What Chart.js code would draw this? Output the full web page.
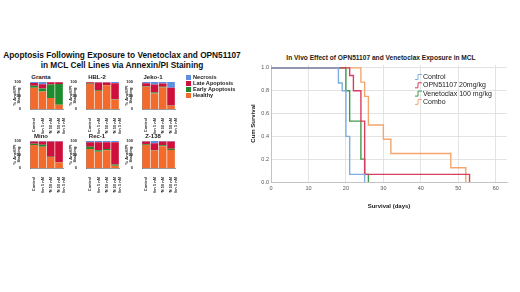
<!DOCTYPE html>
<html>
<head>
<meta charset="utf-8">
<script src="https://cdn.jsdelivr.net/npm/chart.js@4.4.1/dist/chart.umd.min.js"></script>
<style>
  body { margin: 0; background: #fff; width: 520px; height: 292px; position: relative; overflow: hidden;
         font-family: "Liberation Sans", Arial, sans-serif; }
  .abs { position: absolute; }
  #leftTitle { left: 0; top: 50px; width: 244px; text-align: center; font-weight: bold; font-size: 8.3px; line-height: 10px;
               color: #111; white-space: nowrap; }
  .cellTitle { width: 58px; text-align: center; font-size: 6px; font-weight: bold; color: #222; }
  .legItem { font-size: 5.6px; font-weight: bold; color: #222; line-height: 6px; white-space: nowrap; }
  .legItem span { display: inline-block; width: 5px; height: 5px; margin-right: 2px; vertical-align: -1px; }
  #kmTitle { left: 250px; top: 54px; width: 262px; text-align: center; font-weight: bold; font-size: 6.6px; color: #222; white-space: nowrap; }
</style>
</head>
<body>
<div id="leftTitle" class="abs">Apoptosis Following Exposure to Venetoclax and OPN51107<br>in MCL Cell Lines via Annexin/PI Staining</div>
<div id="kmTitle" class="abs">In Vivo Effect of OPN51107 and Venetoclax Exposure in MCL</div>
<canvas id="km" class="abs" width="268" height="160" style="left:250px;top:50px"></canvas>

<script>
// panel A: % of cells per state, one row per cell line, one value per treatment
const cellLines = ['Granta', 'HBL-2', 'Jeko-1', 'Mino', 'Rec-1', 'Z-138'];
const treatments = ['Control', 'Ven 5 nM', 'OPN 50 nM', ['OPN 50 nM', '+ Ven 5 nM']];
const healthy   = [[79, 65, 41, 16], [93, 67, 88, 35], [82, 57, 80, 12], [85, 79, 41, 20], [70, 60, 66, 8],  [85, 65, 81, 67]];
const earlyApop = [[7, 11, 50, 77],  [1, 2, 1, 2],     [2, 4, 2, 1],     [5, 7, 1, 1],     [9, 6, 4, 5],     [3, 2, 3, 4]];
const lateApop  = [[10, 16, 8, 6],   [5, 29, 9, 58],   [11, 30, 12, 66], [8, 12, 56, 77],  [16, 29, 25, 82], [10, 25, 14, 27]];
const necrosis  = [[4, 8, 1, 1],     [1, 2, 2, 5],     [5, 9, 6, 21],    [2, 2, 2, 2],     [5, 5, 5, 5],     [2, 8, 2, 2]];
const stateNames = ['Necrosis', 'Late Apoptosis', 'Early Apoptosis', 'Healthy'];

// panel B: Kaplan-Meier steps (day, cumulative survival)
const groups = ['Control', 'OPN51107 20mg/kg', 'Venetoclax 100 mg/kg', 'Combo'];
const controlDays = [0, 18, 19, 20, 21, 25];
const controlSurv = [1, 0.867, 0.8, 0.4, 0.067, 0];
const opnDays = [0, 21, 22, 24, 25, 53];
const opnSurv = [1, 0.933, 0.8, 0.533, 0.067, 0];
const venDays = [0, 20, 21, 24, 25, 26];
const venSurv = [1, 0.8, 0.533, 0.2, 0.067, 0];
const comboDays = [0, 24, 25, 26, 30, 32, 48, 52];
const comboSurv = [1, 0.875, 0.75, 0.5, 0.375, 0.25, 0.125, 0];

const FONT = '"Liberation Sans", Arial, sans-serif';
const stateColors = { Necrosis: '#5f8fdf', 'Late Apoptosis': '#d0103c', 'Early Apoptosis': '#1e8c2e', Healthy: '#f26b2c' };
const kmColors = ['#7eaee0', '#d6405e', '#3f9b4b', '#f5a56c'];

// small stacked bar charts
const colLeft = [12, 68, 124];
const rowTop = [72, 131];
cellLines.forEach((name, i) => {
  const left = colLeft[i % 3], top = rowTop[Math.floor(i / 3)];
  const t = document.createElement('div');
  t.className = 'abs cellTitle';
  t.style.left = left + 'px';
  t.style.top = (top + 2) + 'px';
  t.textContent = name;
  document.body.appendChild(t);

  const cv = document.createElement('canvas');
  cv.className = 'abs';
  cv.width = 58; cv.height = 62;
  cv.style.left = left + 'px';
  cv.style.top = top + 'px';
  document.body.appendChild(cv);

  new Chart(cv, {
    type: 'bar',
    data: {
      labels: treatments,
      datasets: [
        { label: 'Healthy', data: healthy[i], backgroundColor: stateColors['Healthy'] },
        { label: 'Early Apoptosis', data: earlyApop[i], backgroundColor: stateColors['Early Apoptosis'] },
        { label: 'Late Apoptosis', data: lateApop[i], backgroundColor: stateColors['Late Apoptosis'] },
        { label: 'Necrosis', data: necrosis[i], backgroundColor: stateColors['Necrosis'] }
      ]
    },
    options: {
      responsive: false, animation: false, devicePixelRatio: 1,
      layout: { padding: { top: 10, right: 3, left: 0, bottom: 0 } },
      plugins: { legend: { display: false }, tooltip: { enabled: false } },
      datasets: { bar: { barPercentage: 0.92, categoryPercentage: 1, borderWidth: 0 } },
      scales: {
        x: {
          stacked: true,
          grid: { display: false },
          border: { color: '#555', width: 0.6 },
          ticks: { autoSkip: false, maxRotation: 90, minRotation: 90, padding: 1, color: '#222',
                   font: { size: 4, family: FONT, weight: 'bold' } },
          afterFit: s => { s.height = 25; }
        },
        y: {
          stacked: true, min: 0, max: 100,
          grid: { display: false },
          border: { color: '#555', width: 0.6 },
          ticks: { stepSize: 25, padding: 1, color: '#222', font: { size: 4, family: FONT, weight: 'bold' } },
          title: { display: true, text: ['% AnxV/PI', 'Staining'], padding: 0, color: '#222',
                   font: { size: 4, family: FONT, weight: 'bold' } },
          afterFit: s => { s.width = 18; }
        }
      }
    }
  });
});

// legend of panel A
stateNames.forEach((n, k) => {
  const d = document.createElement('div');
  d.className = 'abs legItem';
  d.style.left = '186px';
  d.style.top = (74 + k * 6) + 'px';
  d.innerHTML = '<span style="background:' + stateColors[n] + '"></span>' + n;
  document.body.appendChild(d);
});

// step icons + labels inside the survival plot
const kmLegend = {
  id: 'kmLegend',
  afterDraw(chart) {
    const ctx = chart.ctx, a = chart.chartArea;
    ctx.save();
    ctx.font = '7px ' + FONT;
    ctx.textBaseline = 'middle';
    chart.data.datasets.forEach((ds, k) => {
      const x = a.left + 144, y = a.top + 12 + k * 8.3;
      ctx.strokeStyle = ds.borderColor;
      ctx.lineWidth = 1;
      ctx.beginPath();
      ctx.moveTo(x, y + 2.5); ctx.lineTo(x + 3, y + 2.5); ctx.lineTo(x + 3, y - 2.5); ctx.lineTo(x + 7, y - 2.5);
      ctx.stroke();
      ctx.fillStyle = '#222';
      ctx.fillText(ds.label, x + 8, y);
    });
    ctx.restore();
  }
};

const pts = (days, surv) => days.map((d, k) => ({ x: d, y: surv[k] }));
const kmData = [pts(controlDays, controlSurv), pts(opnDays, opnSurv), pts(venDays, venSurv), pts(comboDays, comboSurv)];

new Chart(document.getElementById('km'), {
  type: 'line',
  data: {
    datasets: groups.map((g, k) => ({
      label: g, data: kmData[k], stepped: true, borderColor: kmColors[k],
      borderWidth: 1.4, pointRadius: 0, fill: false
    }))
  },
  options: {
    responsive: false, animation: false, devicePixelRatio: 1,
    layout: { padding: { top: 15, right: 11, left: 0, bottom: 0 } },
    plugins: { legend: { display: false }, tooltip: { enabled: false } },
    scales: {
      x: {
        type: 'linear', min: 0, max: 63,
        grid: { color: '#dcdcdc', lineWidth: 0.8, drawTicks: false },
        border: { color: '#bbb', width: 0.8 },
        ticks: { stepSize: 10, includeBounds: false, padding: 3, color: '#555', font: { size: 5.5, family: FONT } },
        title: { display: true, text: 'Survival (days)', padding: { top: 3, bottom: 0 }, color: '#222',
                 font: { size: 6, family: FONT, weight: 'bold' } },
        afterFit: s => { s.height = 28; }
      },
      y: {
        min: 0, max: 1.025,
        grid: { color: '#dcdcdc', lineWidth: 0.8, drawTicks: false },
        border: { color: '#bbb', width: 0.8 },
        ticks: { stepSize: 0.2, includeBounds: false, padding: 2, color: '#555', font: { size: 5.5, family: FONT },
                 callback: v => v.toFixed(1) },
        title: { display: true, text: 'Cum Survival', padding: 0, color: '#222',
                 font: { size: 6, family: FONT, weight: 'bold' } },
        afterFit: s => { s.width = 21; }
      }
    }
  },
  plugins: [kmLegend]
});
</script>
</body>
</html>
